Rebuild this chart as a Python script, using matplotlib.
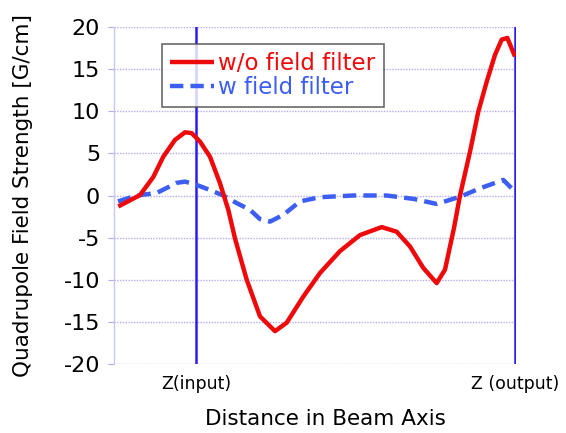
import matplotlib
matplotlib.use("Agg")
import matplotlib.pyplot as plt

# distance along beam axis (arbitrary units, 0..100)
x_red = [1.07, 6.47, 9.78, 12.26, 15.17, 17.66, 19.33, 21.39, 23.88, 26.37, 28.43, 30.10,
         33.01, 36.32, 40.05, 42.96, 47.09, 51.24, 56.22, 61.19, 66.59, 70.32, 73.63,
         76.94, 80.27, 82.34, 84.6, 86.07, 88.56, 90.62, 92.71, 94.78, 96.44, 97.84, 99.75]
y_red = [-1.3, 0.05, 2.2, 4.6, 6.6, 7.5, 7.4, 6.4, 4.6, 1.45, -1.7, -5.1,
         -10.0, -14.35, -16.1, -15.1, -12.0, -9.2, -6.6, -4.7, -3.75, -4.3, -6.05,
         -8.6, -10.4, -8.8, -3.8, 0.0, 5.2, 9.95, 13.5, 16.7, 18.5, 18.7, 16.5]

x_blue = [1.0, 5.65, 10.62, 15.60, 17.66, 20.57, 23.88, 27.19, 30.52, 33.83, 36.32, 38.81,
          42.11, 46.27, 51.24, 59.53, 67.84, 74.45, 80.27, 86.07, 91.04, 96.84, 98.93]
y_blue = [-0.7, 0.0, 0.3, 1.5, 1.65, 1.25, 0.65, 0.0, -0.9, -1.7, -2.8, -3.1,
          -2.3, -0.7, -0.2, 0.0, 0.0, -0.4, -1.0, -0.15, 0.85, 1.85, 0.85]

z_input = 20.4
z_output = 99.75
xtick_labels = ["Z(input)", "Z (output)"]
yticks = [-20, -15, -10, -5, 0, 5, 10, 15, 20]

plt.rcParams['font.family'] = ['DejaVu Sans']

fig = plt.figure(figsize=(5.66, 4.33), dpi=100)
ax = fig.add_axes([114/566, 1-364/433, 402/566, 337/433])

ax.set_xlim(0, 100)
ax.set_ylim(-20, 20)

for yv in yticks:
    ax.axhline(yv, color='#b0aef0', lw=1.0, ls=(0, (1, 1)), zorder=1)

ax.axvline(z_input, color='#2b1cf5', lw=1.8, zorder=2)
ax.axvline(z_output, color='#2b1cf5', lw=1.8, zorder=2)

ax.plot(x_red, y_red, color='#ee0a0a', lw=3.2, label='w/o field filter', zorder=4,
        solid_joinstyle='round', solid_capstyle='butt')
ax.plot(x_blue, y_blue, color='#3d5ef2', lw=3.2, ls=(0, (3, 1.6)), label='w field filter',
        zorder=3)

for s in ['top', 'right', 'bottom']:
    ax.spines[s].set_visible(False)
ax.spines['left'].set_color('#c8c8f8')
ax.spines['left'].set_linewidth(1.0)

ax.set_yticks(yticks)
ax.set_yticklabels([str(v) for v in yticks], fontsize=16)
ax.tick_params(axis='y', length=4, color='#b0aef0', pad=6)
ax.set_xticks([z_input, z_output])
ax.set_xticklabels(xtick_labels, fontsize=12.5)
ax.tick_params(axis='x', length=0, pad=8)

ax.set_ylabel('Quadrupole Field Strength [G/cm]', fontsize=15.5, labelpad=22)
ax.set_xlabel('Distance in Beam Axis', fontsize=15.5)
ax.xaxis.set_label_coords(0.525, -0.135)

leg = ax.legend(loc='upper left', bbox_to_anchor=(0.12, 0.95), fontsize=16.5,
                frameon=True, fancybox=False, handlelength=1.9, handletextpad=0.2,
                borderpad=0.35, labelspacing=0.05, borderaxespad=0)
leg.get_frame().set_edgecolor('#444444')
leg.get_frame().set_linewidth(1.2)
for t, c in zip(leg.get_texts(), ['#ee0a0a', '#3d5ef2']):
    t.set_color(c)

fig.savefig('out.png', dpi=100)
